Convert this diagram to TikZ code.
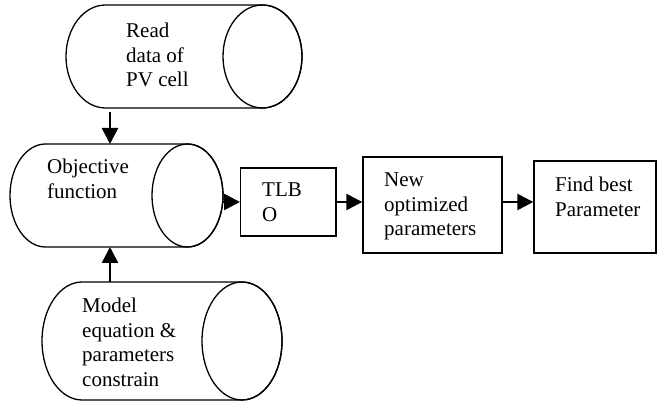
\documentclass[tikz,border=0pt]{standalone}
\usepackage{fontspec}
\setmainfont{Liberation Serif}
\usetikzlibrary{arrows.meta}

% horizontal cylinder: #1 left, #2 right, #3 bottom, #4 top, #5 cap x-radius
\newcommand\drawcyl[5]{%
  \pgfmathsetmacro\cyly{(#3+#4)/2}%
  \pgfmathsetmacro\cylry{(#4-#3)/2}%
  \draw[cylout] (#1+#5,#4) -- (#2-#5,#4)
    arc[start angle=90,end angle=-90,x radius=#5,y radius=\cylry]
    -- (#1+#5,#3)
    arc[start angle=270,end angle=90,x radius=#5,y radius=\cylry] -- cycle;
  \draw[cylout] (#2-#5,\cyly) ellipse[x radius=#5,y radius=\cylry];
}

\begin{document}
\begin{tikzpicture}[x=1pt,y=1pt,
  lbl/.style={anchor=north west, inner sep=0pt, align=left,
    font=\fontsize{21}{24.5}\selectfont},
  stepbox/.style={draw, line width=1.4pt, inner sep=0pt},
  cylout/.style={line width=1.3pt},
  area/.style={inner sep=0pt, outer sep=0pt},
  arr/.style={line width=2.5pt, -{Triangle[length=16pt,width=16pt]}}
]
\useasboundingbox (0,0) rectangle (658,403);

% cylinders
\drawcyl{66}{302}{295}{398}{39.5}
\drawcyl{10}{223}{156}{259}{35.5}
\drawcyl{42}{282}{3}{121}{40}

\node[area, minimum width=236, minimum height=103] (read)  at (184,346.5) {};
\node[area, minimum width=213, minimum height=103] (obj)   at (116.5,207.5) {};
\node[area, minimum width=240, minimum height=118] (model) at (162,62) {};

% process boxes
\node[stepbox, minimum width=95.3, minimum height=68] (tlbo) at (288.35,201) {};
\node[stepbox, minimum width=139,  minimum height=96] (new)  at (432.5,198) {};
\node[stepbox, minimum width=122,  minimum height=92] (find) at (595,196) {};

% labels
\node[lbl] (readtxt)  at (126,380) {Read\\data of\\PV cell};
\node[lbl] (objtxt)   at (47,244)  {Objective\\function};
\node[lbl] (modeltxt) at (82,105)  {Model\\equation \&\\parameters\\constrain};
\node[lbl] (tlbotxt)  at (262,220) {TLB\\O};
\node[lbl] (newtxt)   at (384,230) {New\\optimized\\parameters};
\node[lbl] (findtxt)  at (555,226) {Find best\\Parameter};

% connectors
\coordinate (ax) at (110,0);
\draw[arr] ([yshift=-4pt]read.south -| ax) -- (obj.north -| ax);
\draw[arr] (model.north -| ax) -- (obj.south -| ax);
\draw[arr] (obj.east |- tlbo.west) -- (tlbo.west);
\draw[arr] (tlbo.east) -- (tlbo.east -| new.west);
\draw[arr] (tlbo.east -| new.east) -- (tlbo.east -| find.west);
\end{tikzpicture}
\end{document}
